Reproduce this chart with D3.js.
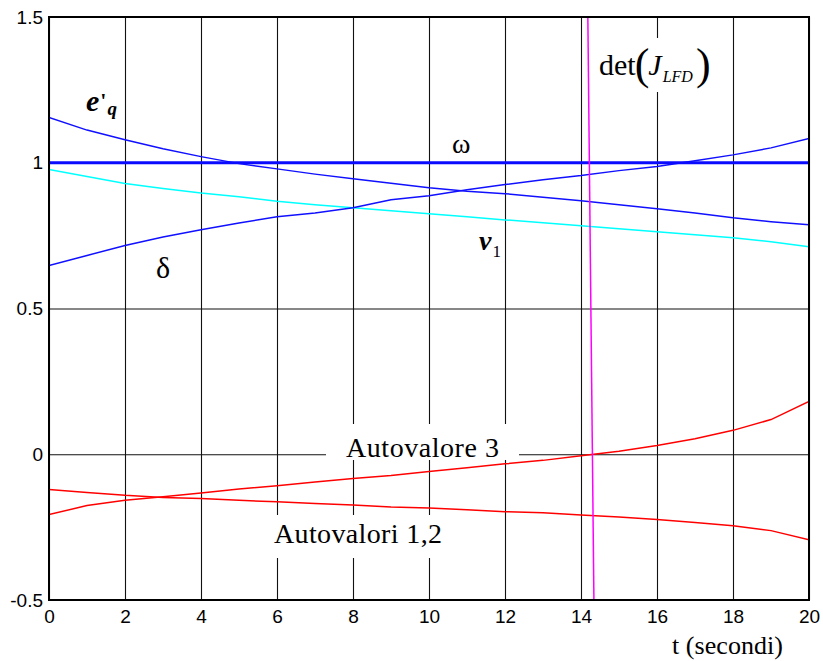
<!DOCTYPE html>
<meta charset="utf-8">
<style>
body { margin: 0; background: #fff; }
.axis text { font: 19px "Liberation Sans", Arial, sans-serif; fill: #000; }
.axis path { display: none; }
.grid line { stroke: #111; stroke-width: 1.1px; }
.lbl { font-family: "Liberation Serif", "Times New Roman", serif; fill: #000; }
</style>
<svg width="823" height="661"></svg>
<script src="https://d3js.org/d3.v7.min.js"></script>
<script>
// time samples (s)
var t = [0,1,2,3,4,5,6,7,8,9,10,11,12,13,14,15,16,17,18,19,20];

var omega = [1,1,1,1,1,1,1,1,1,1,1,1,1,1,1,1,1,1,1,1,1];
var eq = [1.155,1.112,1.079,1.048,1.021,0.997,0.979,0.961,0.945,0.930,0.914,0.902,0.894,0.882,0.870,0.856,0.842,0.828,0.811,0.798,0.787];
var delta = [0.647,0.682,0.716,0.745,0.770,0.793,0.815,0.828,0.846,0.873,0.887,0.907,0.925,0.942,0.956,0.973,0.987,1.007,1.027,1.051,1.083];
var v1 = [0.977,0.953,0.929,0.912,0.896,0.883,0.868,0.856,0.846,0.835,0.825,0.815,0.804,0.794,0.784,0.774,0.763,0.753,0.743,0.729,0.712];
var eig3 = [-0.207,-0.176,-0.158,-0.146,-0.133,-0.119,-0.108,-0.095,-0.083,-0.073,-0.059,-0.046,-0.033,-0.021,-0.005,0.010,0.030,0.053,0.082,0.119,0.181];
var eig12 = [-0.121,-0.131,-0.141,-0.148,-0.152,-0.158,-0.163,-0.169,-0.174,-0.181,-0.184,-0.190,-0.197,-0.201,-0.208,-0.215,-0.224,-0.234,-0.245,-0.262,-0.293];

// det(J_LFD) crosses the plot almost vertically
var detT = [14.18, 14.34];
var detV = [1.5, -0.5];

var xTicks = [0,2,4,6,8,10,12,14,16,18,20];
var yTicks = [-0.5,0,0.5,1,1.5];

var svg = d3.select("svg"),
    margin = {left: 49, top: 17, right: 14, bottom: 61},
    width = 823 - margin.left - margin.right,
    height = 661 - margin.top - margin.bottom;

var x = d3.scaleLinear().domain([0, 20]).range([0, width]);
var y = d3.scaleLinear().domain([-0.5, 1.5]).range([height, 0]);

var g = svg.append("g").attr("transform", "translate(" + margin.left + "," + margin.top + ")");

g.append("clipPath").attr("id", "clip")
  .append("rect").attr("width", width).attr("height", height);

// grid + tick labels
g.append("g")
    .attr("class", "axis grid")
    .attr("transform", "translate(0," + height + ")")
    .call(d3.axisBottom(x).tickValues(xTicks).tickSize(-height).tickPadding(10).tickFormat(d3.format("d")));

g.append("g")
    .attr("class", "axis grid")
    .call(d3.axisLeft(y).tickValues(yTicks).tickSize(-width).tickPadding(6).tickFormat(function(d) { return String(d); }));

// white boxes behind the labels
var boxes = [
  {x0: 595, x1: 706, y0: 38, y1: 92},
  {x0: 326, x1: 519, y0: 424, y1: 460},
  {x0: 268, x1: 452, y0: 515, y1: 558}
];
svg.append("g").selectAll("rect")
  .data(boxes)
  .enter().append("rect")
    .attr("x", function(d) { return d.x0; })
    .attr("y", function(d) { return d.y0; })
    .attr("width", function(d) { return d.x1 - d.x0; })
    .attr("height", function(d) { return d.y1 - d.y0; })
    .attr("fill", "#fff");

var line = d3.line()
    .x(function(d) { return x(d[0]); })
    .y(function(d) { return y(d[1]); });

var series = [
  {v: eig3, color: "#ff0000", w: 1.5},
  {v: eig12, color: "#ff0000", w: 1.5},
  {v: v1, color: "#00ffff", w: 1.5},
  {v: delta, color: "#1010ff", w: 1.5},
  {v: eq, color: "#1010ff", w: 1.5},
  {v: omega, color: "#0a0aff", w: 3}
];

var plot = g.append("g").attr("clip-path", "url(#clip)");

plot.selectAll("path.s")
  .data(series)
  .enter().append("path")
    .attr("class", "s")
    .attr("fill", "none")
    .attr("stroke", function(d) { return d.color; })
    .attr("stroke-width", function(d) { return d.w; })
    .attr("d", function(d) { return line(t.map(function(tt, i) { return [tt, d.v[i]]; })); });

plot.append("path")
    .attr("fill", "none")
    .attr("stroke", "#ff00ff")
    .attr("stroke-width", 1.5)
    .attr("d", line(detT.map(function(tt, i) { return [tt, detV[i]]; })));

// frame
g.append("rect")
    .attr("width", width).attr("height", height)
    .attr("fill", "none").attr("stroke", "#000").attr("stroke-width", 2);

// labels
function lbl(px, py) {
  return svg.append("text").attr("class", "lbl").attr("x", px).attr("y", py);
}
function span(sel, txt, size, style, weight, dx, dy) {
  sel.append("tspan")
    .attr("font-size", size)
    .attr("font-style", style || "normal")
    .attr("font-weight", weight || "normal")
    .attr("dx", dx || 0)
    .attr("dy", dy || 0)
    .text(txt);
}

var e = lbl(86, 111);
span(e, "e", 30, "italic", "bold");
span(e, "'", 22, "normal", "bold", 1, -3);
span(e, "q", 19, "italic", "bold", 1, 7);

span(lbl(452, 153), "ω", 28);

var v = lbl(479, 250);
span(v, "v", 28, "italic", "bold");
span(v, "1", 17, "normal", "normal", 1, 7);

span(lbl(156, 278), "δ", 30);

var det = lbl(599, 75);
span(det, "det", 30);
span(det, "(", 44, "normal", "normal", -1, 4);
span(det, "J", 30, "italic", "normal", -1, -4);
span(det, "LFD", 16, "italic", "normal", 1, 7);
span(det, ")", 44, "normal", "normal", 3, -3);

lbl(346, 457).attr("font-size", 28).attr("textLength", 153).text("Autovalore 3");
lbl(274, 543).attr("font-size", 28).attr("textLength", 168).text("Autovalori 1,2");
lbl(672, 654).attr("font-size", 26).attr("textLength", 111).text("t (secondi)");
</script>
